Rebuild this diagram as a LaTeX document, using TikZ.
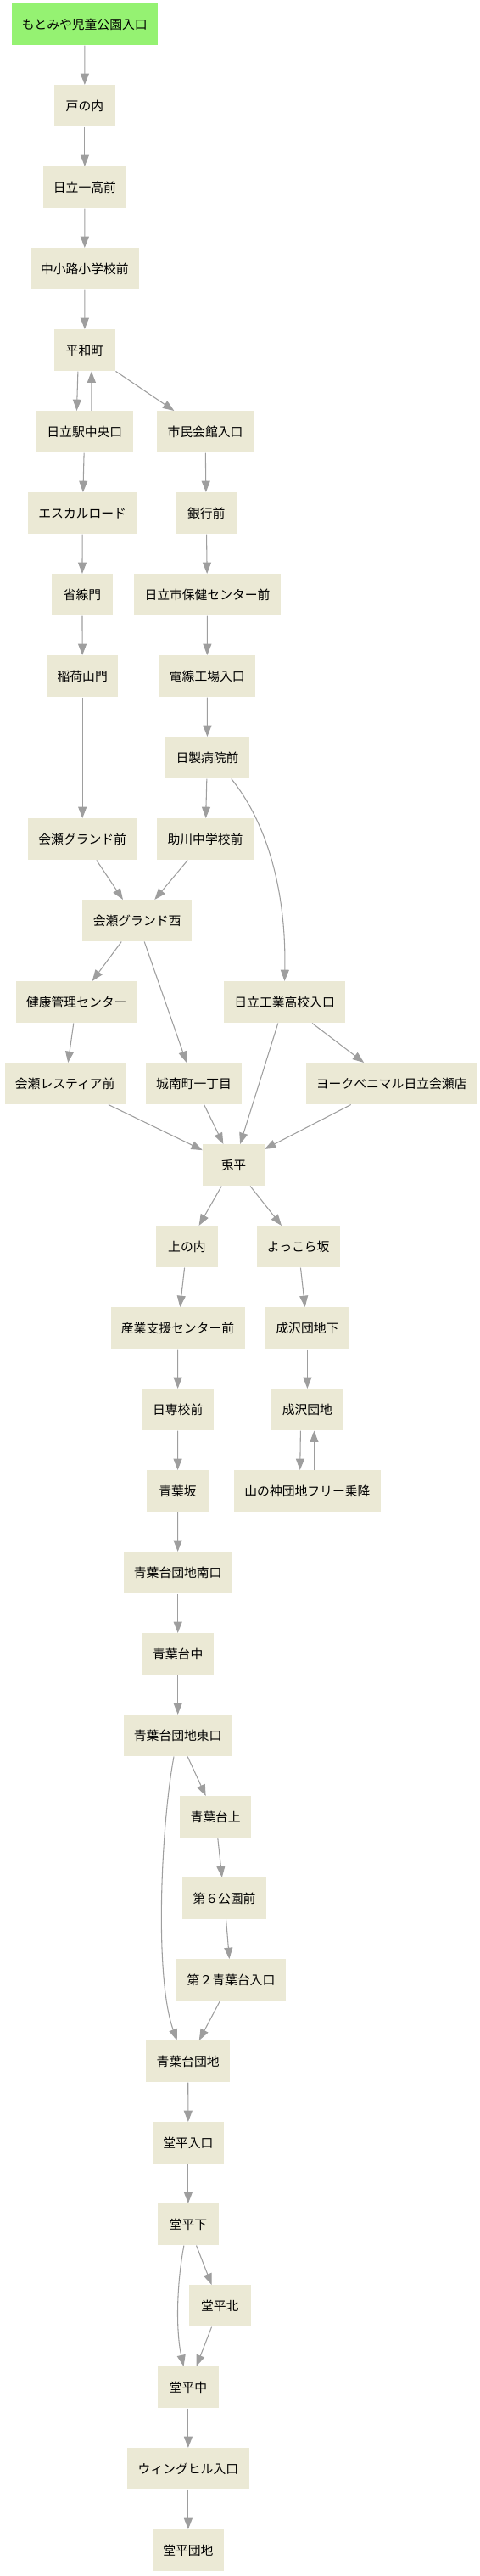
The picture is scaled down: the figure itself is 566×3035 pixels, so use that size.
\documentclass[tikz,border=0pt]{standalone}
\usepackage{fontspec}
\setmainfont{Noto Sans CJK JP}
\usetikzlibrary{arrows.meta,positioning}
\definecolor{stopfill}{HTML}{EBE9D5}
\definecolor{startfill}{HTML}{95F272}
\definecolor{linkgray}{HTML}{9E9E9E}

\tikzset{
  busstop/.style={fill=stopfill, draw=none, minimum width=54.5pt, minimum height=36.75pt,
    inner xsep=9.3pt, inner ysep=0pt, font=\fontsize{11.1pt}{13pt}\selectfont},
  firststop/.style={busstop, fill=startfill},
  route/.style={draw=linkgray, line width=0.8pt, -{Triangle[length=10pt,width=7.5pt]}, color=linkgray}
}

\begin{document}
\begin{tikzpicture}[x=0.75pt, y=-0.75pt]
\useasboundingbox (0,0) rectangle (566,3035);

% stops, one rank every 96px
\node[firststop] (motomiya) at (99.8,28.75) {もとみや児童公園入口};
\node[busstop] (tonouchi) at (99.9,124.75) {戸の内};
\node[busstop] (ichiko) at (99.9,220.75) {日立一高前};
\node[busstop] (nakakoji) at (99.8,316.75) {中小路小学校前};
\node[busstop] (heiwa) at (99.9,412.75) {平和町};
\node[busstop] (ekichuo) at (99.8,508.75) {日立駅中央口};
\node[busstop] (shimin) at (242,508.75) {市民会館入口};
\node[busstop] (escal) at (97.2,604.75) {エスカルロード};
\node[busstop] (ginko) at (243.2,604.75) {銀行前};
\node[busstop] (shosen) at (96.9,700.75) {省線門};
\node[busstop] (hoken) at (244.5,700.75) {日立市保健センター前};
\node[busstop] (inari) at (97.2,796.75) {稲荷山門};
\node[busstop] (densen) at (244.3,796.75) {電線工場入口};
\node[busstop] (nissei) at (244.5,892.75) {日製病院前};
\node[busstop] (aisemae) at (97.2,988.75) {会瀬グランド前};
\node[busstop] (sukegawa) at (242,988.75) {助川中学校前};
\node[busstop] (aisenishi) at (161.6,1084.75) {会瀬グランド西};
\node[busstop] (kenko) at (90.3,1180.75) {健康管理センター};
\node[busstop] (kogyo) at (335.6,1180.75) {日立工業高校入口};
\node[busstop] (restia) at (76.7,1276.75) {会瀬レスティア前};
\node[busstop] (jonan) at (228.6,1276.75) {城南町一丁目};
\node[busstop] (york) at (461.7,1276.75) {ヨークベニマル日立会瀬店};
\node[busstop] (usagi) at (275.4,1372.75) {兎平};
\node[busstop] (kaminouchi) at (220.4,1468.75) {上の内};
\node[busstop] (yokkora) at (351.7,1468.75) {よっこら坂};
\node[busstop] (sangyo) at (209.5,1564.75) {産業支援センター前};
\node[busstop] (narushita) at (362.4,1564.75) {成沢団地下};
\node[busstop] (nissen) at (209.7,1660.75) {日専校前};
\node[busstop] (narusawa) at (362.4,1660.75) {成沢団地};
\node[busstop] (aobazaka) at (209.5,1756.75) {青葉坂};
\node[busstop] (yamanokami) at (362.4,1756.75) {山の神団地フリー乗降};
\node[busstop] (minamiguchi) at (209.7,1852.75) {青葉台団地南口};
\node[busstop] (aobanaka) at (209.7,1948.75) {青葉台中};
\node[busstop] (higashiguchi) at (209.7,2044.75) {青葉台団地東口};
\node[busstop] (aobaue) at (254.1,2140.75) {青葉台上};
\node[busstop] (dai6) at (264.5,2236.75) {第６公園前};
\node[busstop] (dai2) at (272.5,2332.75) {第２青葉台入口};
\node[busstop] (aobadanchi) at (221.7,2428.75) {青葉台団地};
\node[busstop] (dohiraguchi) at (221.9,2524.75) {堂平入口};
\node[busstop] (dohirashita) at (221.9,2620.75) {堂平下};
\node[busstop] (dohirakita) at (259.2,2716.75) {堂平北};
\node[busstop] (dohiranaka) at (221.9,2812.75) {堂平中};
\node[busstop] (wing) at (221.9,2908.75) {ウィングヒル入口};
\node[busstop] (dohiradanchi) at (221.9,3004.75) {堂平団地};

% links
\draw[route] (motomiya) -- (tonouchi);
\draw[route] (tonouchi) -- (ichiko);
\draw[route] (ichiko) -- (nakakoji);
\draw[route] (nakakoji) -- (heiwa);
\draw[route] ([xshift=-6pt]heiwa.south) -- ([xshift=-7pt]ekichuo.north);
\draw[route] ([xshift=6pt]ekichuo.north) -- ([xshift=6pt]heiwa.south);
\draw[route] (heiwa) -- (shimin);
\draw[route] (ekichuo) -- (escal);
\draw[route] (escal) -- (shosen);
\draw[route] (shosen) -- (inari);
\draw[route] (inari) -- (aisemae);
\draw[route] (shimin) -- (ginko);
\draw[route] (ginko) -- (hoken);
\draw[route] (hoken) -- (densen);
\draw[route] (densen) -- (nissei);
\draw[route] (nissei) -- (sukegawa);
\draw[route] ([xshift=21.2pt]nissei.south) .. controls +(42,52) and +(2,-107) .. (kogyo.north);
\draw[route] (aisemae) -- (aisenishi);
\draw[route] (sukegawa) -- (aisenishi);
\draw[route] (aisenishi) -- (kenko);
\draw[route] (aisenishi) -- (jonan);
\draw[route] (kenko) -- (restia);
\draw[route] (kogyo) -- (usagi);
\draw[route] (kogyo) -- (york);
\draw[route] (restia) -- (usagi);
\draw[route] (jonan) -- (usagi);
\draw[route] (york) -- (usagi);
\draw[route] (usagi) -- (kaminouchi);
\draw[route] (usagi) -- (yokkora);
\draw[route] (kaminouchi) -- (sangyo);
\draw[route] (yokkora) -- (narushita);
\draw[route] (sangyo) -- (nissen);
\draw[route] (nissen) -- (aobazaka);
\draw[route] (aobazaka) -- (minamiguchi);
\draw[route] (minamiguchi) -- (aobanaka);
\draw[route] (aobanaka) -- (higashiguchi);
\draw[route] (narushita) -- (narusawa);
\draw[route] ([xshift=-6pt]narusawa.south) -- ([xshift=-6.5pt]yamanokami.north);
\draw[route] ([xshift=6pt]yamanokami.north) -- ([xshift=6pt]narusawa.south);
\draw[route] (higashiguchi) -- (aobaue);
\draw[route] ([xshift=-3.5pt]higashiguchi.south) .. controls +(-15,80) and +(-27,-75) .. ([xshift=-9.75pt]aobadanchi.north);
\draw[route] (aobaue) -- (dai6);
\draw[route] (dai6) -- (dai2);
\draw[route] (dai2) -- (aobadanchi);
\draw[route] (aobadanchi) -- (dohiraguchi);
\draw[route] (dohiraguchi) -- (dohirashita);
\draw[route] (dohirashita) -- (dohirakita);
\draw[route] ([xshift=-3.75pt]dohirashita.south) .. controls +(-8.5,45) and +(-9.5,-43) .. ([xshift=-4pt]dohiranaka.north);
\draw[route] (dohirakita) -- (dohiranaka);
\draw[route] (dohiranaka) -- (wing);
\draw[route] (wing) -- (dohiradanchi);
\end{tikzpicture}
\end{document}
